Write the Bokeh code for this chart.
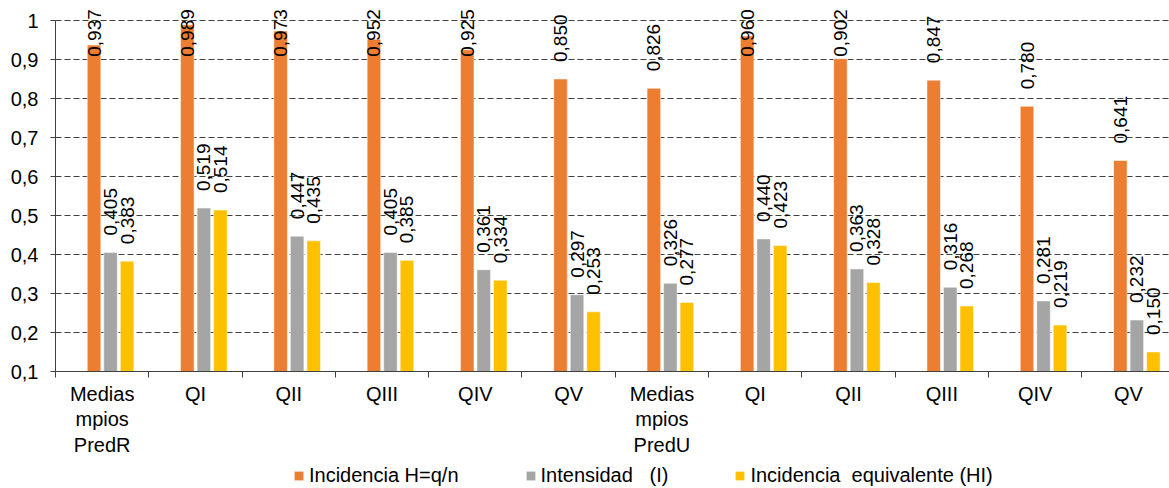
import numpy as np
from bokeh.plotting import figure
from bokeh.layouts import column
from bokeh.models import (ColumnDataSource, FixedTicker, Range1d, Legend, LegendItem)
from bokeh.core.properties import value
from bokeh.embed import file_html
from bokeh.resources import INLINE

# ---- data ----
categories = ["Medias\nmpios\nPredR", "QI", "QII", "QIII", "QIV", "QV",
              "Medias\nmpios\nPredU", "QI", "QII", "QIII", "QIV", "QV"]
incidencia = [0.937, 0.989, 0.973, 0.952, 0.925, 0.850, 0.826, 0.960, 0.902, 0.847, 0.780, 0.641]
intensidad = [0.405, 0.519, 0.447, 0.405, 0.361, 0.297, 0.326, 0.440, 0.363, 0.316, 0.281, 0.232]
incid_equiv = [0.383, 0.514, 0.435, 0.385, 0.334, 0.253, 0.277, 0.423, 0.328, 0.268, 0.219, 0.150]
series_names = ["Incidencia H=q/n", "Intensidad   (I)", "Incidencia  equivalente (HI)"]
series_colors = ["#ED7D31", "#A5A5A5", "#FFC000"]
y_ticks = [0.1, 0.2, 0.3, 0.4, 0.5, 0.6, 0.7, 0.8, 0.9, 1.0]
y_tick_labels = ["0,1", "0,2", "0,3", "0,4", "0,5", "0,6", "0,7", "0,8", "0,9", "1"]

FONT = "Liberation Sans"
n = len(categories)
centers = np.arange(n) + 0.5
offsets = [-0.087, 0.09, 0.267]
bar_w = 0.145

p = figure(width=1169, height=460, output_backend="svg", toolbar_location=None,
           x_range=Range1d(0, 11.94), y_range=Range1d(0.1, 1.0513),
           min_border_left=55, min_border_right=0, min_border_top=0, min_border_bottom=89)
p.outline_line_color = None
p.background_fill_color = "white"
p.border_fill_color = "white"

for vals, off, col in zip([incidencia, intensidad, incid_equiv], offsets, series_colors):
    vals = np.array(vals)
    src = ColumnDataSource(dict(
        x=centers + off, top=vals,
        ly=np.minimum(vals + 0.0436, 0.907),
        txt=[f"{v:.3f}".replace(".", ",") for v in vals]))
    p.vbar(x="x", top="top", bottom=0.1, width=bar_w, source=src,
           fill_color=col, line_color="white", line_alpha=0.5, line_width=1)
    p.text(x="x", y="ly", text="txt", source=src, angle=np.pi / 2,
           text_align="left", text_baseline="middle",
           text_font=value(FONT), text_font_size="19px", text_color="#000000")

# y axis
ya = p.yaxis[0]
ya.ticker = FixedTicker(ticks=y_ticks, minor_ticks=[])
ya.major_label_overrides = {t: l for t, l in zip(y_ticks, y_tick_labels)}
ya.bounds = (0.1, 1.0)
ya.axis_line_color = "#404040"
ya.major_tick_line_color = "#404040"
ya.major_tick_out = 5
ya.major_tick_in = 0
ya.major_label_standoff = 12
ya.major_label_text_font = FONT
ya.major_label_text_font_size = "20px"
ya.major_label_text_color = "#000000"

# x axis
xa = p.xaxis[0]
xa.ticker = FixedTicker(ticks=list(centers), minor_ticks=list(range(n + 1)))
xa.major_label_overrides = {float(c): lab for c, lab in zip(centers, categories)}
xa.axis_line_color = "#404040"
xa.major_tick_line_color = None
xa.major_tick_out = 0
xa.major_tick_in = 0
xa.minor_tick_line_color = "#404040"
xa.minor_tick_out = 6
xa.minor_tick_in = 0
xa.major_label_standoff = 5
xa.major_label_text_font = FONT
xa.major_label_text_font_size = "20px"
xa.major_label_text_line_height = 1.17
xa.major_label_text_color = "#000000"

# grid
p.xgrid.grid_line_color = None
p.ygrid.ticker = FixedTicker(ticks=y_ticks[1:])
p.ygrid.grid_line_color = "#404040"
p.ygrid.grid_line_dash = "6 3"
p.ygrid.grid_line_width = 1

# legend strip below the chart (frame aligned with the chart's frame)
pl = figure(width=1169, height=28, output_backend="svg", toolbar_location=None,
            x_range=Range1d(0, 1), y_range=Range1d(0, 1),
            x_axis_location=None, y_axis_location=None,
            min_border=0, min_border_left=0, min_border_right=0,
            min_border_top=0, min_border_bottom=0)
pl.outline_line_color = None
pl.grid.visible = False
# placeholder renderers (zero-size, outside the view) that only feed the legend swatches
leg_renderers = [pl.vbar(x=[-5.0], top=[-5.0], bottom=[-5.0], width=0.01,
                         fill_color=c, line_color=None)
                 for c in series_colors]
legend = Legend(items=[LegendItem(label=nm, renderers=[r]) for nm, r in zip(series_names, leg_renderers)],
                orientation="horizontal", location=(238, 1),
                padding=0, margin=0, spacing=66, label_standoff=5,
                glyph_width=11, glyph_height=11,
                label_text_font=FONT, label_text_font_size="20px", label_text_color="#000000",
                border_line_color=None, background_fill_alpha=0)
pl.add_layout(legend, "center")

layout = column(p, pl, spacing=0)
open("out.html", "w").write(file_html(layout, INLINE))
